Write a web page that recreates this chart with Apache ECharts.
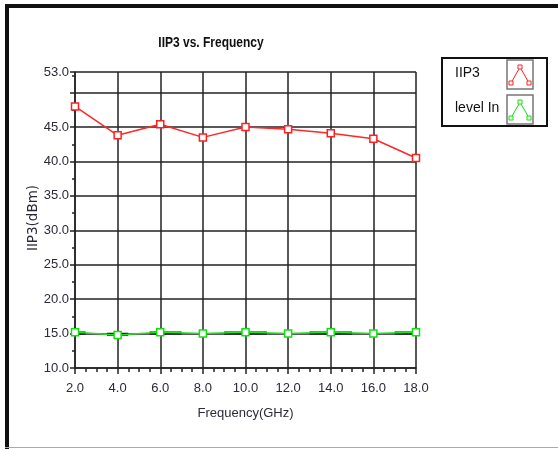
<!DOCTYPE html>
<html><head><meta charset="utf-8">
<script src="https://cdn.jsdelivr.net/npm/echarts@6/dist/echarts.min.js"></script>
<style>html,body{margin:0;padding:0;background:#fff}#c{width:558px;height:449px}</style>
</head><body><div id="c"></div>
<script>
const freqs = [2, 4, 6, 8, 10, 12, 14, 16, 18];
const iip3 = [48.0, 43.8, 45.4, 43.5, 45.0, 44.7, 44.1, 43.3, 40.5];
const levelIn = [15.2, 14.8, 15.2, 15.0, 15.2, 15.0, 15.2, 15.0, 15.2];
// short dark trace pieces visible under the level line: [x, y] pairs, '-' breaks
const trace = [[2, 15.1], [2.5, 15.1], [3, '-'], [3.5, 14.9], [4.5, 14.9], [5, '-'], [5.5, 15.1], [7, 15.1], [8, '-'],
  [9, 15.1], [11, 15.1], [12, '-'], [13, 15.1], [15, 15.1], [16, '-'], [17, 15.1], [18, 15.1]];
const yTickHidden = [50];
const legendNames = ['IIP3', 'level In'];
const legendColors = ['#ff2020', '#10e010'];
const titleText = 'IIP3 vs. Frequency';
const yName = 'IIP3(dBm)';

const font = '"Liberation Sans","Arial",sans-serif';
const lblColor = '#2a2a3a';
const chart = echarts.init(document.getElementById('c'));

function legendGraphic() {
  const els = [];
  legendNames.forEach((n, i) => {
    const y0 = 60 + i * 35;
    els.push({type: 'text', left: 455, top: y0 + 6, style: {text: n, font: '14px ' + font, fill: '#111'}});
    els.push({type: 'rect', shape: {x: 507, y: y0, width: 26, height: 29}, style: {fill: '#fff', stroke: '#777', lineWidth: 1.5}});
    const c = legendColors[i];
    els.push({type: 'polyline', shape: {points: [[511, y0 + 23], [520, y0 + 7], [529, y0 + 23]]}, style: {stroke: c, lineWidth: 1, fill: 'none'}});
    [[511, y0 + 23], [520, y0 + 7], [529, y0 + 23]].forEach(p => {
      els.push({type: 'rect', shape: {x: p[0] - 2, y: p[1] - 2, width: 4, height: 4}, style: {stroke: c, fill: '#fff', lineWidth: 1}});
    });
  });
  return els;
}

chart.setOption({
  animation: false,
  backgroundColor: '#fff',
  graphic: [
    {type: 'rect', shape: {x: 5, y: 4, width: 553, height: 4}, style: {fill: '#111'}},
    {type: 'rect', shape: {x: 5, y: 4, width: 4, height: 445}, style: {fill: '#111'}},
    {type: 'rect', shape: {x: 5, y: 447, width: 553, height: 1}, style: {fill: '#aaa'}},
    {type: 'rect', shape: {x: 442, y: 58, width: 105, height: 68}, style: {fill: 'none', stroke: '#111', lineWidth: 2}},
    {type: 'text', x: 211, y: 43, scaleX: 0.8, originX: 0, originY: 0,
      style: {text: titleText, font: 'bold 15px ' + font, fill: '#111', align: 'center', verticalAlign: 'middle'}},
    {type: 'text', x: 33, y: 218, rotation: Math.PI / 2,
      style: {text: yName, font: '13.5px "DejaVu Sans",sans-serif', fill: lblColor, align: 'center', verticalAlign: 'middle'}}
  ].concat(legendGraphic()),
  grid: {left: 75, top: 72, right: 142, bottom: 81},
  xAxis: {
    type: 'value', min: 2, max: 18, interval: 2,
    name: 'Frequency(GHz)', nameLocation: 'middle', nameGap: 39,
    nameTextStyle: {fontFamily: font, fontSize: 13, color: lblColor},
    axisLine: {show: true, onZero: false, lineStyle: {color: '#222', width: 1.5}},
    axisTick: {show: true, inside: false, length: 6, lineStyle: {color: '#222', width: 1.5}},
    minorTick: {show: true, splitNumber: 4, length: 4, lineStyle: {color: '#222', width: 1.5}},
    axisLabel: {fontFamily: font, fontSize: 13, color: lblColor, margin: 14, formatter: v => v.toFixed(1)},
    splitLine: {show: true, lineStyle: {color: '#222', width: 1.5}}
  },
  yAxis: {
    type: 'value', min: 10, max: 53, interval: 5,
    axisLine: {show: true, onZero: false, lineStyle: {color: '#222', width: 1.5}},
    axisTick: {show: true, length: 5, lineStyle: {color: '#222', width: 1.5}},
    minorTick: {show: true, splitNumber: 2, length: 3, lineStyle: {color: '#222', width: 1.5}},
    axisLabel: {fontFamily: font, fontSize: 13, color: lblColor, margin: 6,
      formatter: v => yTickHidden.includes(v) ? '' : v.toFixed(1), showMaxLabel: true},
    splitLine: {show: true, lineStyle: {color: '#222', width: 1.5}}
  },
  series: [
    {
      name: 'trace', type: 'line', data: trace, symbol: 'none', z: 2, silent: true,
      lineStyle: {color: '#111', width: 3}, connectNulls: false
    },
    {
      name: 'IIP3', type: 'line', data: freqs.map((f, i) => [f, iip3[i]]), z: 4,
      symbol: 'rect', symbolSize: 7, showAllSymbol: true,
      lineStyle: {color: '#ff2828', width: 1.5},
      itemStyle: {color: '#fff', borderColor: '#ff2020', borderWidth: 1.5}
    },
    {
      name: 'level In', type: 'line', data: freqs.map((f, i) => [f, levelIn[i]]), z: 3,
      symbol: 'rect', symbolSize: 7, showAllSymbol: true,
      lineStyle: {color: '#22e022', width: 1.5},
      itemStyle: {color: '#fff', borderColor: '#10e010', borderWidth: 1.5}
    }
  ]
});
</script></body></html>
